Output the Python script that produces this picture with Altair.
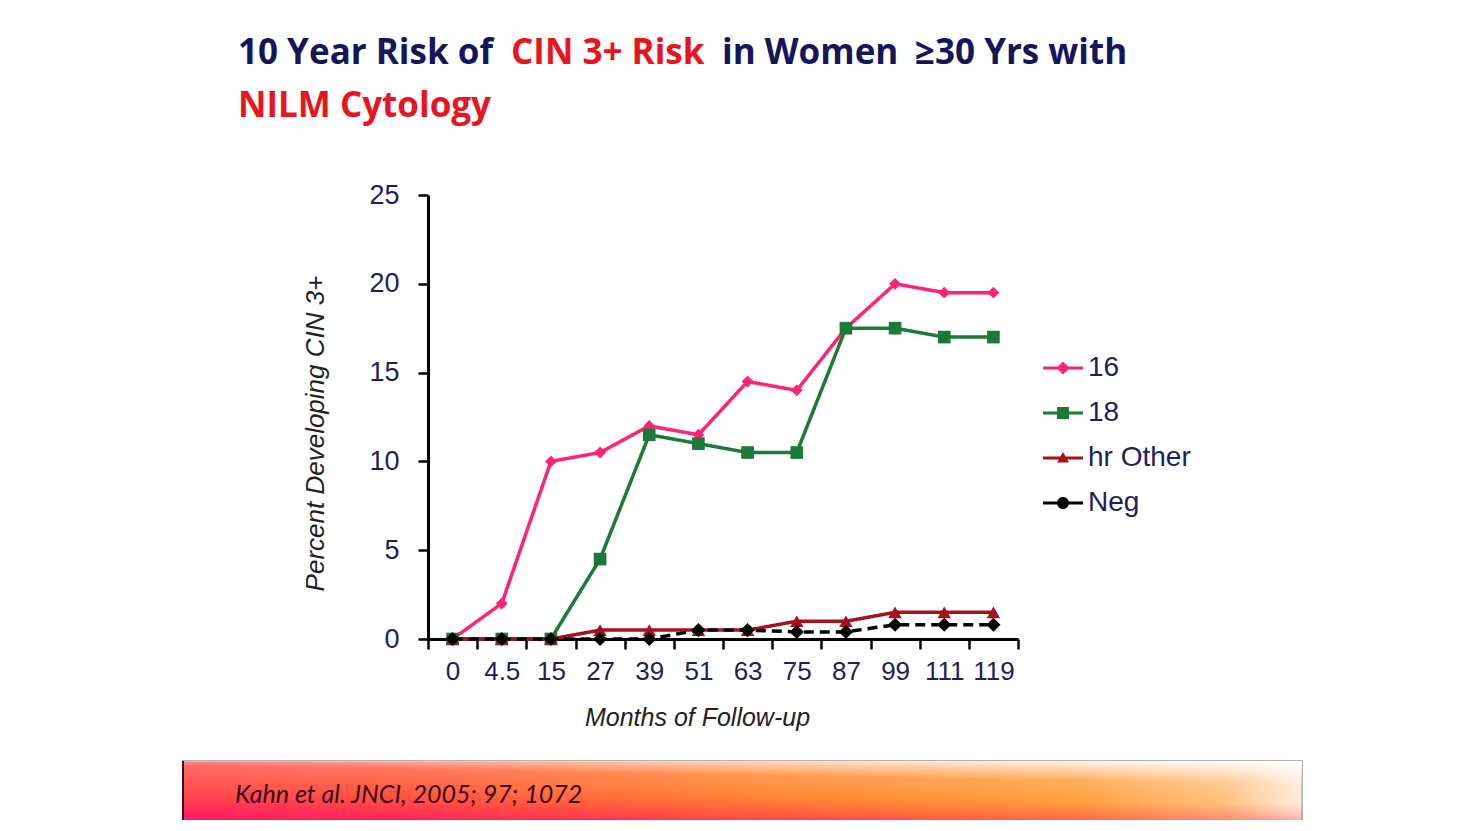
import altair as alt
import pandas as pd

# ---- data ----
months = ["0", "4.5", "15", "27", "39", "51", "63", "75", "87", "99", "111", "119"]
series_names = ["16", "18", "hr Other", "Neg"]
s16 = [0, 2, 10, 10.5, 12, 11.5, 14.5, 14, 17.5, 20, 19.5, 19.5]
s18 = [0, 0, 0, 4.5, 11.5, 11, 10.5, 10.5, 17.5, 17.5, 17, 17]
s_hr = [0, 0, 0, 0.5, 0.5, 0.5, 0.5, 1, 1, 1.5, 1.5, 1.5]
s_neg = [0, 0, 0, 0, 0, 0.5, 0.5, 0.4, 0.4, 0.8, 0.8, 0.8]
y_ticks = [0, 5, 10, 15, 20, 25]

colors = ["#FF2278", "#1B7A36", "#A8101C", "#000000"]
point_shapes = ["diamond", "square", "triangle-up", "diamond"]
point_sizes = [140, 200, 110, 170]
dashes = [[1, 0], [1, 0], [1, 0], [10, 6]]
legend_paths = [
    "M-1,-0.075L1,-0.075L1,0.075L-1,0.075Z M0,-0.32L0.32,0L0,0.32L-0.32,0Z",
    "M-1,-0.08L1,-0.08L1,0.08L-1,0.08Z M-0.3,-0.3L0.3,-0.3L0.3,0.3L-0.3,0.3Z",
    "M-1,-0.075L1,-0.075L1,0.075L-1,0.075Z M0,-0.3L0.3,0.22L-0.3,0.22Z",
    "M-1,-0.075L1,-0.075L1,0.075L-1,0.075Z M0.3,0A0.3,0.3,0,1,1,-0.3,0A0.3,0.3,0,1,1,0.3,0Z",
]

rows = []
for name, vals in zip(series_names, [s16, s18, s_hr, s_neg]):
    for i, (m, v) in enumerate(zip(months, vals)):
        rows.append({"month": m, "series": name, "value": v, "idx": i,
                     "z": series_names.index(name)})
df = pd.DataFrame(rows)

NAVY = "#15155A"
RED = "#E8141E"
LABEL = "#1E1E5C"

x_enc = alt.X(
    "month:O", sort=months, bandPosition=0.5,
    scale=alt.Scale(type="band", paddingInner=0, paddingOuter=0),
    axis=alt.Axis(
        title="Months of Follow-up", tickBand="extent", labelAngle=0,
        labelFont="Liberation Sans", labelFontSize=26, labelColor=LABEL,
        labelPadding=9, tickSize=10, tickWidth=2.5, tickColor="black",
        domainColor="black", domainWidth=3,
        titleFont="Liberation Sans", titleFontStyle="italic",
        titleFontWeight="normal", titleFontSize=25, titleColor="#222222",
        titleX=269, titleY=78, titleBaseline="middle",
    ),
)
y_enc = alt.Y(
    "value:Q",
    scale=alt.Scale(domain=[0, 25]),
    axis=alt.Axis(
        title="Percent Developing CIN 3+", values=y_ticks, grid=False,
        labelFont="Liberation Sans", labelFontSize=27, labelColor=LABEL,
        labelPadding=19, tickSize=10, tickWidth=2.5, tickColor="black",
        domainColor="black", domainWidth=3,
        titleFont="Liberation Sans", titleFontStyle="italic",
        titleFontWeight="normal", titleFontSize=26, titleColor="#222222",
        titleX=-113, titleY=238, titleBaseline="middle", titleAlign="center",
        titleAngle=270,
    ),
)

color_main = alt.Color("series:N", scale=alt.Scale(domain=series_names, range=colors), legend=None)

lines = alt.Chart(df).mark_line(strokeWidth=3.5).encode(
    x=x_enc, y=y_enc, color=color_main,
    strokeDash=alt.StrokeDash("series:N", scale=alt.Scale(domain=series_names, range=dashes), legend=None),
    order="idx:Q",
)

points = alt.Chart(df).mark_point(filled=True, opacity=1).encode(
    x=x_enc, y=y_enc, color=color_main,
    shape=alt.Shape("series:N", scale=alt.Scale(domain=series_names, range=point_shapes), legend=None),
    size=alt.Size("series:N", scale=alt.Scale(domain=series_names, range=point_sizes), legend=None),
    order="z:Q",
)

legend_layer = alt.Chart(df).transform_filter("datum.value < -100").mark_point(
    filled=True, opacity=1, strokeWidth=0, size=1600
).encode(
    x=x_enc, y=y_enc,
    color=alt.Color("series:N", scale=alt.Scale(domain=series_names, range=colors),
                    legend=alt.Legend(title=None)),
    shape=alt.Shape("series:N", scale=alt.Scale(domain=series_names, range=legend_paths),
                    legend=alt.Legend(
                        title=None, orient="none", legendX=615, legendY=153,
                        symbolSize=1600, symbolStrokeWidth=0, rowPadding=11,
                        labelFont="Liberation Sans", labelFontSize=28,
                        labelColor=LABEL, labelOffset=5, padding=0,
                    )),
)

# ---- title (multi-coloured) ----
def txt(s, x, y, color, size=35, style="normal", weight="bold", font="Open Sans"):
    return alt.Chart(pd.DataFrame({"t": [s]})).mark_text(
        align="left", baseline="alphabetic", font=font, fontSize=size,
        fontWeight=weight, fontStyle=style, color=color,
    ).encode(x=alt.value(x), y=alt.value(y), text="t:N")

title_parts = [
    txt("10 Year Risk of", -190, -131, NAVY),
    txt("CIN 3+ Risk", 83, -131, RED),
    txt("in Women", 294, -131, NAVY),
    txt("≥30 Yrs with", 487, -131, NAVY),
    txt("NILM Cytology", -190, -78, RED),
]

# ---- bottom banner ----
band_df = pd.DataFrame({"t": ["Kahn et al.  JNCI, 2005; 97; 1072"]})
base_grad = alt.LinearGradient(
    gradient="linear", x1=0, y1=0, x2=1, y2=0,
    stops=[
        alt.GradientStop(offset=0, color="#FF2A28"),
        alt.GradientStop(offset=0.2, color="#FF3A14"),
        alt.GradientStop(offset=0.5, color="#FF6A04"),
        alt.GradientStop(offset=0.8, color="#FF8A14"),
        alt.GradientStop(offset=0.93, color="#FFB060"),
        alt.GradientStop(offset=1, color="#FFE6D0"),
    ],
)
pink_grad = alt.LinearGradient(
    gradient="linear", x1=0, y1=1, x2=0.3, y2=0.0,
    stops=[
        alt.GradientStop(offset=0, color="rgba(90,100,230,1)"),
        alt.GradientStop(offset=0.1, color="rgba(255,20,120,1)"),
        alt.GradientStop(offset=0.35, color="rgba(255,20,110,0.5)"),
        alt.GradientStop(offset=0.65, color="rgba(255,40,60,0)"),
        alt.GradientStop(offset=1, color="rgba(255,40,60,0)"),
    ],
)
white_grad = alt.LinearGradient(
    gradient="linear", x1=0.75, y1=1, x2=1, y2=0,
    stops=[
        alt.GradientStop(offset=0, color="rgba(255,255,255,0)"),
        alt.GradientStop(offset=0.7, color="rgba(255,255,255,0.3)"),
        alt.GradientStop(offset=1, color="rgba(255,255,255,1)"),
    ],
)
band_base = alt.Chart(band_df).mark_rect(color=base_grad, stroke="#9a9a9a", strokeWidth=1.5).encode(
    x=alt.value(-245), x2=alt.value(874), y=alt.value(566), y2=alt.value(640))
band_pink = alt.Chart(band_df).mark_rect(color=pink_grad).encode(
    x=alt.value(-245), x2=alt.value(874), y=alt.value(566), y2=alt.value(640))
band_white = alt.Chart(band_df).mark_rect(color=white_grad).encode(
    x=alt.value(-245), x2=alt.value(874), y=alt.value(566), y2=alt.value(640))
band_left = alt.Chart(band_df).mark_rule(color="#3a1020", strokeWidth=2).encode(
    x=alt.value(-245), y=alt.value(566), y2=alt.value(640))
band_text = alt.Chart(band_df).mark_text(
    align="left", baseline="alphabetic", font="Lato", fontSize=25,
    fontStyle="italic", color="#3A0818",
).encode(x=alt.value(-193), y=alt.value(608), text="t:N")

chart = alt.layer(
    lines, points, legend_layer, *title_parts,
    band_base, band_pink, band_white, band_left, band_text,
).resolve_scale(
    color="independent", shape="independent"
).properties(
    width=590, height=444,
    padding={"left": 420, "top": 187, "right": 449, "bottom": 181},
    autosize=alt.AutoSizeParams(type="none"),
    background="white",
).configure_view(stroke=None)

chart.save("out.html", embed_options={"renderer": "svg", "actions": False})
